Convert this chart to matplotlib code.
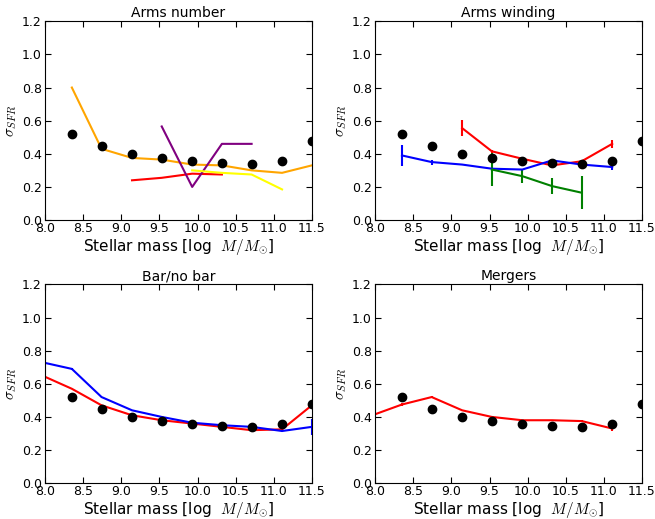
import matplotlib
matplotlib.use('Agg')
import matplotlib.pyplot as plt

# центри бінів за масою
mass_bins = [7.96, 8.35, 8.74, 9.14, 9.53, 9.93, 10.32, 10.71, 11.11, 11.5]
# загальна вибірка (чорні точки)
all_sigma = [0.52, 0.447, 0.397, 0.375, 0.355, 0.345, 0.34, 0.355, 0.48]

# Arms number
arms_orange = [0.80, 0.43, 0.375, 0.365, 0.335, 0.33, 0.30, 0.285, 0.33]
arms_red = [0.24, 0.255, 0.28, 0.275]
arms_purple = [0.565, 0.20, 0.46, 0.46]
arms_yellow = [0.30, 0.285, 0.275, 0.185]

# Arms winding
wind_red = [0.555, 0.415, 0.37, 0.33, 0.355, 0.46]
wind_red_err = [0.05, 0.01, 0.005, 0.008, 0.005, 0.025]
wind_blue = [0.39, 0.35, 0.335, 0.31, 0.305, 0.36, 0.335, 0.32]
wind_blue_err = [0.065, 0.015, 0.005, 0.004, 0.004, 0.006, 0.005, 0.02]
wind_green = [0.305, 0.265, 0.205, 0.165]
wind_green_err = [0.1, 0.04, 0.05, 0.1]

# Bar/no bar
bar_blue = [0.73, 0.69, 0.52, 0.44, 0.40, 0.365, 0.35, 0.34, 0.315, 0.34]
bar_blue_err = [0.0, 0.004, 0.003, 0.002, 0.002, 0.002, 0.002, 0.003, 0.004, 0.05]
bar_red = [0.65, 0.57, 0.47, 0.41, 0.38, 0.36, 0.34, 0.32, 0.325, 0.47]

# Mergers
merg_red = [0.41, 0.475, 0.52, 0.44, 0.40, 0.38, 0.38, 0.375, 0.33]
merg_red_err = [0.0, 0.012, 0.004, 0.003, 0.002, 0.002, 0.003, 0.004, 0.012]

plt.rcParams['mathtext.fontset'] = 'cm'
plt.rcParams['xtick.direction'] = 'in'
plt.rcParams['ytick.direction'] = 'in'
plt.rcParams['xtick.top'] = True
plt.rcParams['ytick.right'] = True
plt.rcParams['xtick.major.size'] = 4
plt.rcParams['ytick.major.size'] = 4
plt.rcParams['xtick.major.pad'] = 1.5
plt.rcParams['ytick.major.pad'] = 2.5

fig = plt.figure(figsize=(6.55, 5.19), dpi=100)
ax1 = fig.add_axes([0.069, 0.576, 0.407, 0.383])
ax2 = fig.add_axes([0.573, 0.576, 0.407, 0.383])
ax3 = fig.add_axes([0.069, 0.069, 0.407, 0.383])
ax4 = fig.add_axes([0.573, 0.069, 0.407, 0.383])

x = mass_bins[1:]
lw = 1.5

# Arms number
ax1.plot(x, arms_orange, color='orange', lw=lw)
ax1.plot(x[2:6], arms_red, color='red', lw=lw)
ax1.plot(x[3:7], arms_purple, color='purple', lw=lw)
ax1.plot(x[4:8], arms_yellow, color='yellow', lw=lw)
ax1.set_title('Arms number', fontsize=10, pad=3)

# Arms winding
ax2.errorbar(x[2:8], wind_red, yerr=wind_red_err, color='red', lw=lw)
ax2.errorbar(x[0:8], wind_blue, yerr=wind_blue_err, color='blue', lw=lw)
ax2.errorbar(x[3:7], wind_green, yerr=wind_green_err, color='green', lw=lw)
ax2.set_title('Arms winding', fontsize=10, pad=3)

# Bar/no bar
ax3.errorbar(mass_bins, bar_blue, yerr=bar_blue_err, color='blue', lw=lw)
ax3.plot(mass_bins, bar_red, color='red', lw=lw)
ax3.set_title('Bar/no bar', fontsize=10, pad=3)

# Mergers
ax4.errorbar(mass_bins[:9], merg_red, yerr=merg_red_err, color='red', lw=lw)
ax4.set_title('Mergers', fontsize=10, pad=3)

for ax in [ax1, ax2, ax3, ax4]:
    ax.plot(x, all_sigma, 'o', color='black', ms=6, zorder=5)
    ax.set_xlim(8.0, 11.5)
    ax.set_ylim(0.0, 1.2)
    ax.set_xticks([8.0, 8.5, 9.0, 9.5, 10.0, 10.5, 11.0, 11.5])
    ax.set_yticks([0.0, 0.2, 0.4, 0.6, 0.8, 1.0, 1.2])
    ax.tick_params(labelsize=9)
    ax.set_xlabel(r'Stellar mass [log  $M/M_{\odot}$]', fontsize=11, labelpad=1)
    ax.set_ylabel(r'$\sigma_{SFR}$', fontsize=11, labelpad=2)

plt.savefig('out.png', dpi=100)
